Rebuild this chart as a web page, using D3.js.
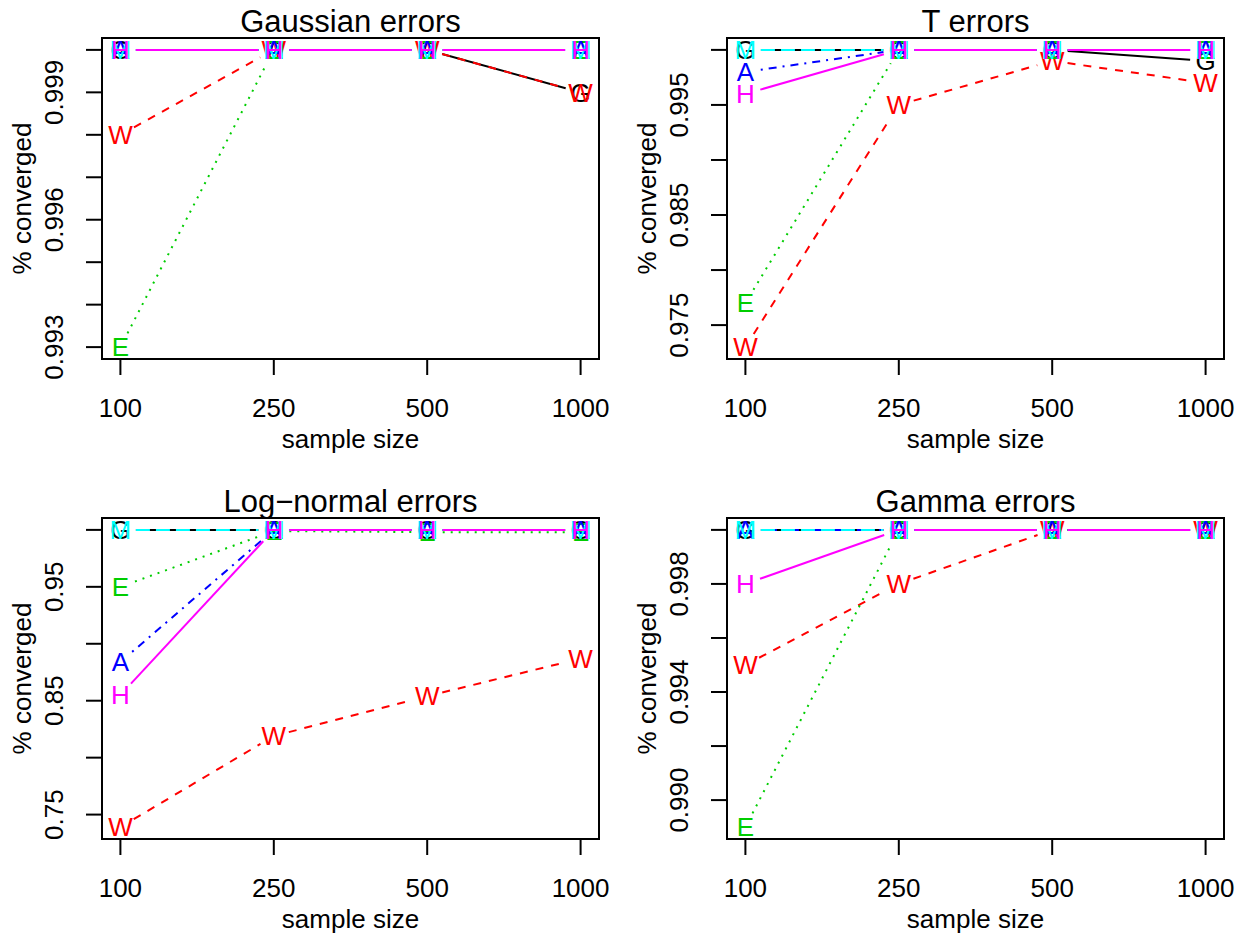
<!DOCTYPE html>
<html><head><meta charset="utf-8">
<script src="https://cdn.jsdelivr.net/npm/d3@7"></script>
<style>body{margin:0;background:#fff}svg{display:block}text{font-family:"Liberation Sans",Arial,Helvetica,sans-serif}</style>
</head><body>
<script>
// ---------- data ----------
const sampleSizes = ["100", "250", "500", "1000"];
const seriesLetters = ["G", "W", "E", "A", "M", "H"];
const panelTitles = ["Gaussian errors", "T errors", "Log\u2212normal errors", "Gamma errors"];
const xLabel = "sample size";
const yLabel = "% converged";

// rows: G, W, E, A, M, H ; columns: sample sizes
const gaussianValues = [
  [1, 1, 1, 0.999],
  [0.998, 1, 1, 0.999],
  [0.993, 1, 1, 1],
  [1, 1, 1, 1],
  [1, 1, 1, 1],
  [1, 1, 1, 1]
];
const tValues = [
  [1, 1, 1, 0.999],
  [0.973, 0.995, 0.999, 0.997],
  [0.977, 1, 1, 1],
  [0.998, 1, 1, 1],
  [1, 1, 1, 1],
  [0.996, 1, 1, 1]
];
const lognormalValues = [
  [1, 1, 1, 1],
  [0.739, 0.819, 0.854, 0.887],
  [0.950, 0.999, 0.998, 0.998],
  [0.884, 1, 1, 1],
  [1, 1, 1, 1],
  [0.855, 1, 1, 1]
];
const gammaValues = [
  [1, 1, 1, 1],
  [0.995, 0.998, 1, 1],
  [0.989, 1, 1, 1],
  [1, 1, 1, 1],
  [1, 1, 1, 1],
  [0.998, 1, 1, 1]
];

const gaussianTicks = [0.993, 0.994, 0.995, 0.996, 0.997, 0.998, 0.999, 1.000];
const gaussianTickLabels = ["0.993", "", "", "0.996", "", "", "0.999", ""];
const tTicks = [0.975, 0.980, 0.985, 0.990, 0.995, 1.000];
const tTickLabels = ["0.975", "", "0.985", "", "0.995", ""];
const lognormalTicks = [0.75, 0.80, 0.85, 0.90, 0.95, 1.00];
const lognormalTickLabels = ["0.75", "", "0.85", "", "0.95", ""];
const gammaTicks = [0.990, 0.992, 0.994, 0.996, 0.998, 1.000];
const gammaTickLabels = ["0.990", "", "0.994", "", "0.998", ""];

// ---------- styles ----------
const seriesColors = ["#000000", "#FF0000", "#00CD00", "#0000FF", "#00FFFF", "#FF00FF"];
const seriesDash = [null, "8,8", "2,6", "2,6,8,6", "14,6", null];

const panels = [
  {title: panelTitles[0], values: gaussianValues, ticks: gaussianTicks, labels: gaussianTickLabels, ox: 0, oy: 0},
  {title: panelTitles[1], values: tValues, ticks: tTicks, labels: tTickLabels, ox: 625, oy: 0},
  {title: panelTitles[2], values: lognormalValues, ticks: lognormalTicks, labels: lognormalTickLabels, ox: 0, oy: 480},
  {title: panelTitles[3], values: gammaValues, ticks: gammaTicks, labels: gammaTickLabels, ox: 625, oy: 480}
];

const W = 1250, H = 941;
const plotL = 102, plotR = 599, plotT = 38, plotB = 359;
const fontSize = 26, titleSize = 31, tickLen = 16, gap = 15.5;

const svg = d3.select("body").append("svg").attr("width", W).attr("height", H);
svg.append("rect").attr("width", W).attr("height", H).attr("fill", "#fff");

panels.forEach(p => {
  const g = svg.append("g").attr("transform", `translate(${p.ox},${p.oy})`);
  const all = p.values.flat();
  const mn = d3.min(all), mx = d3.max(all), r = mx - mn;
  const y = d3.scaleLinear().domain([mn - 0.04 * r, mx + 0.04 * r]).range([plotB, plotT]);
  const xi = d3.scaleLinear().domain([1 - 0.04 * 3, 4 + 0.04 * 3]).range([plotL, plotR]);
  const x = d => xi(sampleSizes.indexOf(d) + 1);

  // series
  p.values.forEach((vals, si) => {
    const pts = vals.map((v, i) => [x(sampleSizes[i]), y(v)]);
    const lg = g.append("g");
    for (let i = 0; i < pts.length - 1; i++) {
      const [x1, y1] = pts[i], [x2, y2] = pts[i + 1];
      const dx = x2 - x1, dy = y2 - y1, d = Math.hypot(dx, dy);
      if (d <= 2 * gap) continue;
      const ux = dx / d, uy = dy / d;
      lg.append("line")
        .attr("x1", x1 + ux * gap).attr("y1", y1 + uy * gap)
        .attr("x2", x2 - ux * gap).attr("y2", y2 - uy * gap)
        .attr("stroke", seriesColors[si]).attr("stroke-width", 2)
        .attr("stroke-dasharray", seriesDash[si]);
    }
    lg.selectAll("text.pt").data(vals).join("text")
      .attr("class", "pt")
      .attr("x", (v, i) => x(sampleSizes[i]))
      .attr("y", v => y(v))
      .attr("dy", "0.358em")
      .attr("text-anchor", "middle")
      .attr("font-size", fontSize)
      .attr("fill", seriesColors[si])
      .text(seriesLetters[si]);
  });

  // box
  g.append("rect").attr("x", plotL).attr("y", plotT)
    .attr("width", plotR - plotL).attr("height", plotB - plotT)
    .attr("fill", "none").attr("stroke", "#000").attr("stroke-width", 2);

  // x axis
  sampleSizes.forEach(s => {
    g.append("line").attr("x1", x(s)).attr("x2", x(s)).attr("y1", plotB).attr("y2", plotB + tickLen)
      .attr("stroke", "#000").attr("stroke-width", 2);
    g.append("text").attr("x", x(s)).attr("y", 417).attr("text-anchor", "middle")
      .attr("font-size", fontSize).text(s);
  });
  g.append("text").attr("x", (plotL + plotR) / 2).attr("y", 448).attr("text-anchor", "middle")
    .attr("font-size", fontSize).text(xLabel);

  // y axis
  p.ticks.forEach((t, i) => {
    g.append("line").attr("x1", plotL - tickLen).attr("x2", plotL).attr("y1", y(t)).attr("y2", y(t))
      .attr("stroke", "#000").attr("stroke-width", 2);
    if (p.labels[i]) {
      g.append("text").attr("transform", `translate(63,${y(t)}) rotate(-90)`)
        .attr("text-anchor", "middle").attr("font-size", fontSize).text(p.labels[i]);
    }
  });
  g.append("text").attr("transform", `translate(31,${(plotT + plotB) / 2}) rotate(-90)`)
    .attr("text-anchor", "middle").attr("font-size", fontSize).text(yLabel);

  // title
  g.append("text").attr("x", (plotL + plotR) / 2).attr("y", 32).attr("text-anchor", "middle")
    .attr("font-size", titleSize).text(p.title);
});
</script>
</body></html>
